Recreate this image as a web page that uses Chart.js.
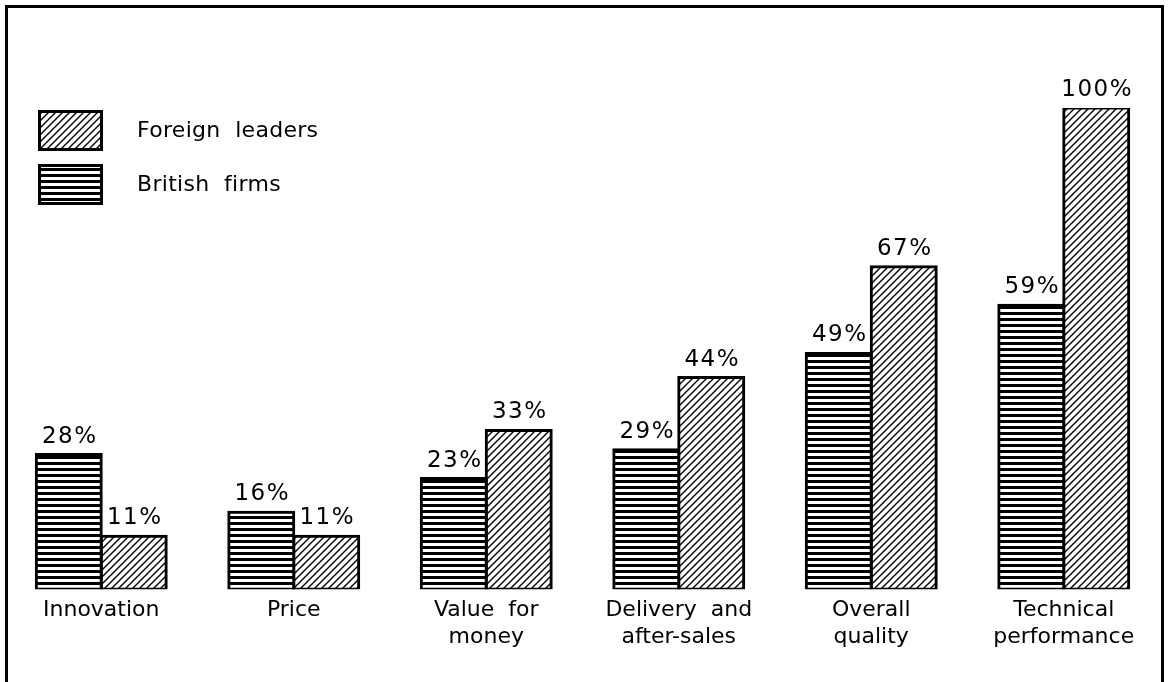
<!DOCTYPE html>
<html>
<head>
<meta charset="utf-8">
<script src="https://cdn.jsdelivr.net/npm/chart.js@4/dist/chart.umd.min.js"></script>
<style>
  html, body { margin: 0; padding: 0; background: #fff; }
  #wrap { width: 1168px; height: 682px; }
</style>
</head>
<body>
<div id="wrap"><canvas id="chart" width="1168" height="682"></canvas></div>
<script>
// данные с картинки
const categories = [['Innovation'], ['Price'], ['Value  for', 'money'], ['Delivery  and', 'after-sales'], ['Overall', 'quality'], ['Technical', 'performance']];
const britishFirms = [28, 16, 23, 29, 49, 59];
const foreignLeaders = [11, 11, 33, 44, 67, 100];
const seriesNames = ['British  firms', 'Foreign  leaders'];

const FONT = '"DejaVu Sans", sans-serif';

// горизонтальная штриховка
function makeHatchH() {
  const c = document.createElement('canvas');
  c.width = 6; c.height = 6;
  const g = c.getContext('2d');
  g.fillStyle = '#fff';
  g.fillRect(0, 0, 6, 6);
  g.fillStyle = '#000';
  g.fillRect(0, 0, 6, 3);
  return g.createPattern(c, 'repeat');
}

// диагональная штриховка
function makeHatchD() {
  const c = document.createElement('canvas');
  c.width = 7; c.height = 7;
  const g = c.getContext('2d');
  g.fillStyle = '#fff';
  g.fillRect(0, 0, 7, 7);
  g.strokeStyle = '#000';
  g.lineWidth = 1.4;
  g.beginPath();
  g.moveTo(-1, 8); g.lineTo(8, -1);
  g.moveTo(-1, 1); g.lineTo(1, -1);
  g.moveTo(6, 8); g.lineTo(8, 6);
  g.stroke();
  return g.createPattern(c, 'repeat');
}

const hatchH = makeHatchH();
const hatchD = makeHatchD();

const extras = {
  id: 'extras',
  afterDatasetsDraw(chart) {
    const ctx = chart.ctx;
    ctx.save();
    ctx.fillStyle = '#000';
    ctx.font = '23px ' + FONT;
    ctx.letterSpacing = '1.5px';
    ctx.textAlign = 'center';
    ctx.textBaseline = 'alphabetic';
    chart.data.datasets.forEach((ds, i) => {
      chart.getDatasetMeta(i).data.forEach((bar, j) => {
        ctx.fillText(ds.data[j] + '%', bar.x + 1, bar.y - 12);
      });
    });
    ctx.restore();
  },
  afterDraw(chart) {
    const ctx = chart.ctx;
    ctx.save();
    // рамка
    ctx.strokeStyle = '#000';
    ctx.lineWidth = 3;
    ctx.strokeRect(6.5, 6.5, 1156, 690);
    // легенда
    const items = [
      { name: seriesNames[1], fill: hatchD, y: 110 },
      { name: seriesNames[0], fill: hatchH, y: 164 }
    ];
    ctx.font = '22px ' + FONT;
    ctx.letterSpacing = '0.3px';
    ctx.textBaseline = 'middle';
    ctx.textAlign = 'left';
    items.forEach(it => {
      ctx.fillStyle = it.fill;
      ctx.fillRect(38, it.y, 65, 41);
      ctx.lineWidth = 3;
      ctx.strokeRect(39.5, it.y + 1.5, 62, 38);
      ctx.fillStyle = '#000';
      ctx.fillText(it.name, 137, it.y + 21);
    });
    ctx.restore();
  }
};

const ctx = document.getElementById('chart').getContext('2d');
ctx.letterSpacing = '0.5px';

new Chart(ctx, {
  type: 'bar',
  data: {
    labels: categories,
    datasets: [
      { label: seriesNames[0], data: britishFirms, backgroundColor: hatchH, borderColor: '#000', borderWidth: 3, borderSkipped: false, inflateAmount: 1.5 },
      { label: seriesNames[1], data: foreignLeaders, backgroundColor: hatchD, borderColor: '#000', borderWidth: 3, borderSkipped: false, inflateAmount: 1.5 }
    ]
  },
  options: {
    responsive: false,
    animation: false,
    layout: { padding: { top: 108, left: 5, right: 8, bottom: 23 } },
    datasets: { bar: { categoryPercentage: 0.675, barPercentage: 1.0 } },
    plugins: { legend: { display: false }, tooltip: { enabled: false } },
    scales: {
      x: {
        grid: { display: false, drawTicks: false },
        border: { display: false },
        ticks: { color: '#000', padding: 8, font: { family: FONT, size: 22, lineHeight: 1.22 }, maxRotation: 0, autoSkip: false }
      },
      y: { display: false, min: 0, max: 100 }
    }
  },
  plugins: [extras]
});
</script>
</body>
</html>
